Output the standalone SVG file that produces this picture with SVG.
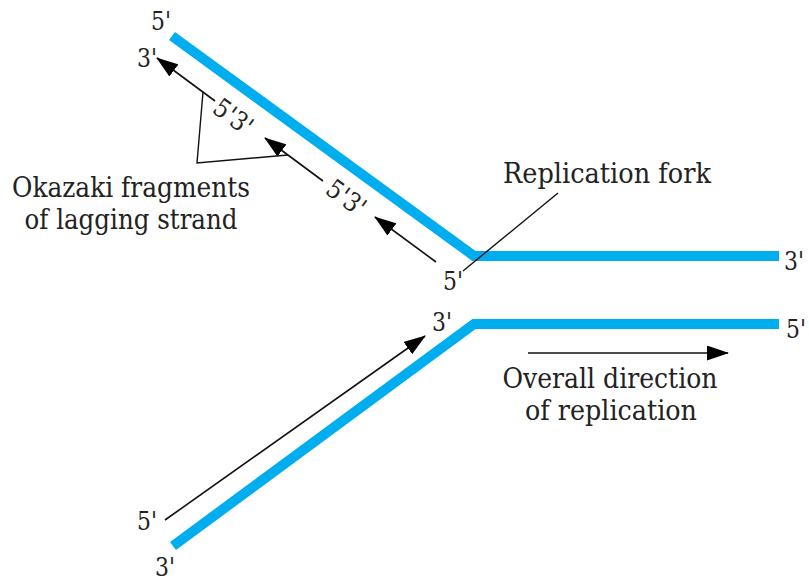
<svg xmlns="http://www.w3.org/2000/svg" width="809" height="581" viewBox="0 0 809 581">
<style>
.strand{fill:none;stroke:#00aeef;stroke-width:10;stroke-linejoin:miter}
.arr{fill:none;stroke:#111;stroke-width:1.6}
.thin{fill:none;stroke:#111;stroke-width:1.4}
text{font-family:'DejaVu Serif','Liberation Serif',serif;font-size:26px;fill:#222}
.lbl{font-size:27px}
</style>
<defs>
<marker id="ah" viewBox="0 0 22 15" refX="21" refY="7.5" markerWidth="22" markerHeight="15" orient="auto" markerUnits="userSpaceOnUse">
<path d="M0,0 L22,7.5 L0,15 z" fill="#000"/>
</marker>
</defs>
<rect width="809" height="581" fill="#fff"/>
<g id="strand-top"><polyline class="strand" points="172,36 474,256 779,256"/></g>
<g id="strand-bottom"><polyline class="strand" points="173,546 474,324 779,324"/></g>
<g id="connectors">
<line class="arr" x1="165" y1="520" x2="425" y2="336" marker-end="url(#ah)"/>
<line class="arr" x1="215" y1="101" x2="157" y2="58" marker-end="url(#ah)"/>
<line class="arr" x1="323" y1="181" x2="265" y2="138" marker-end="url(#ah)"/>
<line class="arr" x1="436" y1="262" x2="375" y2="217" marker-end="url(#ah)"/>
<line class="arr" x1="528" y1="353" x2="728" y2="353" marker-end="url(#ah)"/>
<polyline class="thin" points="203,92 197,163 288,155"/>
<line class="thin" x1="558" y1="193" x2="463" y2="271"/>
</g>
<g id="end-labels">
<text x="151" y="30" textLength="20" lengthAdjust="spacingAndGlyphs">5'</text>
<text x="137" y="67" textLength="20" lengthAdjust="spacingAndGlyphs">3'</text>
<text x="443" y="290" textLength="20" lengthAdjust="spacingAndGlyphs">5'</text>
<text x="432" y="331" textLength="20" lengthAdjust="spacingAndGlyphs">3'</text>
<text x="784" y="270" textLength="20" lengthAdjust="spacingAndGlyphs">3'</text>
<text x="786" y="338" textLength="20" lengthAdjust="spacingAndGlyphs">5'</text>
<text x="137" y="530" textLength="20" lengthAdjust="spacingAndGlyphs">5'</text>
<text x="155" y="576" textLength="20" lengthAdjust="spacingAndGlyphs">3'</text>
</g>
<g id="fragment-labels">
<text transform="translate(228,124) rotate(36.25)" text-anchor="middle" textLength="42" lengthAdjust="spacingAndGlyphs">5'3'</text>
<text transform="translate(341,205) rotate(36.25)" text-anchor="middle" textLength="42" lengthAdjust="spacingAndGlyphs">5'3'</text>
</g>
<g id="okazaki-label">
<text class="lbl" x="131" y="197" text-anchor="middle" textLength="238" lengthAdjust="spacingAndGlyphs">Okazaki fragments</text>
<text class="lbl" x="131" y="229" text-anchor="middle" textLength="213" lengthAdjust="spacingAndGlyphs">of lagging strand</text>
</g>
<g id="fork-label">
<text class="lbl" x="503" y="183" textLength="208" lengthAdjust="spacingAndGlyphs">Replication fork</text>
</g>
<g id="direction-label">
<text class="lbl" x="610" y="388" text-anchor="middle" textLength="215" lengthAdjust="spacingAndGlyphs">Overall direction</text>
<text class="lbl" x="611" y="420" text-anchor="middle" textLength="172" lengthAdjust="spacingAndGlyphs">of replication</text>
</g>
</svg>
